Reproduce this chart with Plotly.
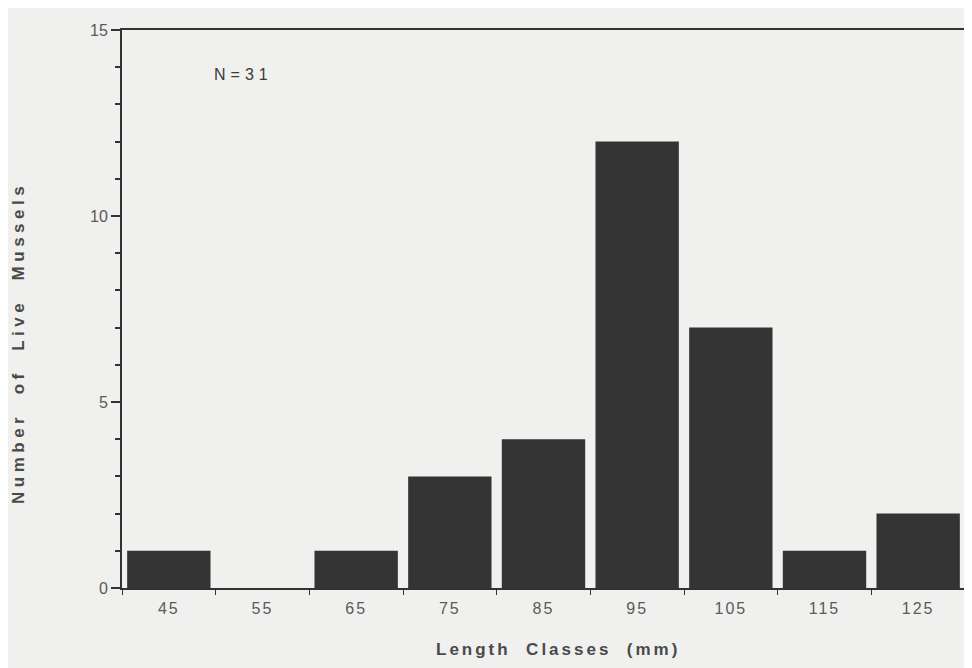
import plotly.graph_objects as go

length_classes = [45, 55, 65, 75, 85, 95, 105, 115, 125]
live_mussels = [1, 0, 1, 3, 4, 12, 7, 1, 2]
y_tick_vals = [0, 5, 10, 15]
y_tick_text = ["0", "5", "10", "15"]
sample_label = "N=31"
x_title = "Length  Classes  (mm)"
y_title = "Number  of  Live  Mussels"

def spaced(t, ls):
    return '<span style="letter-spacing:%spx">%s</span>' % (ls, t)

fig = go.Figure()
fig.add_trace(go.Bar(
    x=length_classes, y=live_mussels,
    marker=dict(color="#343434", line=dict(width=0)),
    width=8.9,
))

fig.add_annotation(x=53.0, y=13.8, text=spaced(sample_label, 5), showarrow=False,
                   font=dict(family="Liberation Sans, Arial", size=16, color="#3a3a3a"))
fig.add_annotation(xref="paper", yref="paper", x=0.517, y=-0.111, text="<b>" + spaced(x_title, 3) + "</b>",
                   showarrow=False, xanchor="center", yanchor="middle",
                   font=dict(family="Liberation Sans, Arial", size=17, color="#4a4a4a"))
fig.add_annotation(xref="paper", yref="paper", x=-0.1234, y=0.439, text="<b>" + spaced(y_title, 4.5) + "</b>",
                   showarrow=False, xanchor="center", yanchor="middle", textangle=-90,
                   font=dict(family="Liberation Sans, Arial", size=17, color="#4a4a4a"))

fig.update_layout(
    width=972, height=668,
    margin=dict(l=114, r=15, t=22, b=88),
    paper_bgcolor="#f0f0ee", plot_bgcolor="#f0f0ee",
    showlegend=False,
    font=dict(family="Liberation Sans, Arial", color="#555555"),
    xaxis=dict(
        range=[40, 130], tickvals=length_classes,
        ticktext=[spaced(str(v), 2) for v in length_classes],
        ticks="", showgrid=False, zeroline=False, automargin=False,
        showline=True, linecolor="#333333", linewidth=2, mirror=True,
        tickfont=dict(size=16, color="#5a5a5a"), ticklabelstandoff=5,
        minor=dict(ticks="outside", tick0=40, dtick=10, ticklen=5, tickcolor="#333333", showgrid=False),
    ),
    yaxis=dict(
        range=[0, 15], tickvals=y_tick_vals, ticktext=y_tick_text,
        ticks="outside", ticklen=9, tickcolor="#333333", tickwidth=1.5,
        showgrid=False, zeroline=False, automargin=False,
        showline=True, linecolor="#333333", linewidth=2,
        tickfont=dict(size=16, color="#5a5a5a"),
        minor=dict(ticks="outside", dtick=1, ticklen=5, tickcolor="#333333", showgrid=False),
    ),
)

fig.write_html("out.html")
